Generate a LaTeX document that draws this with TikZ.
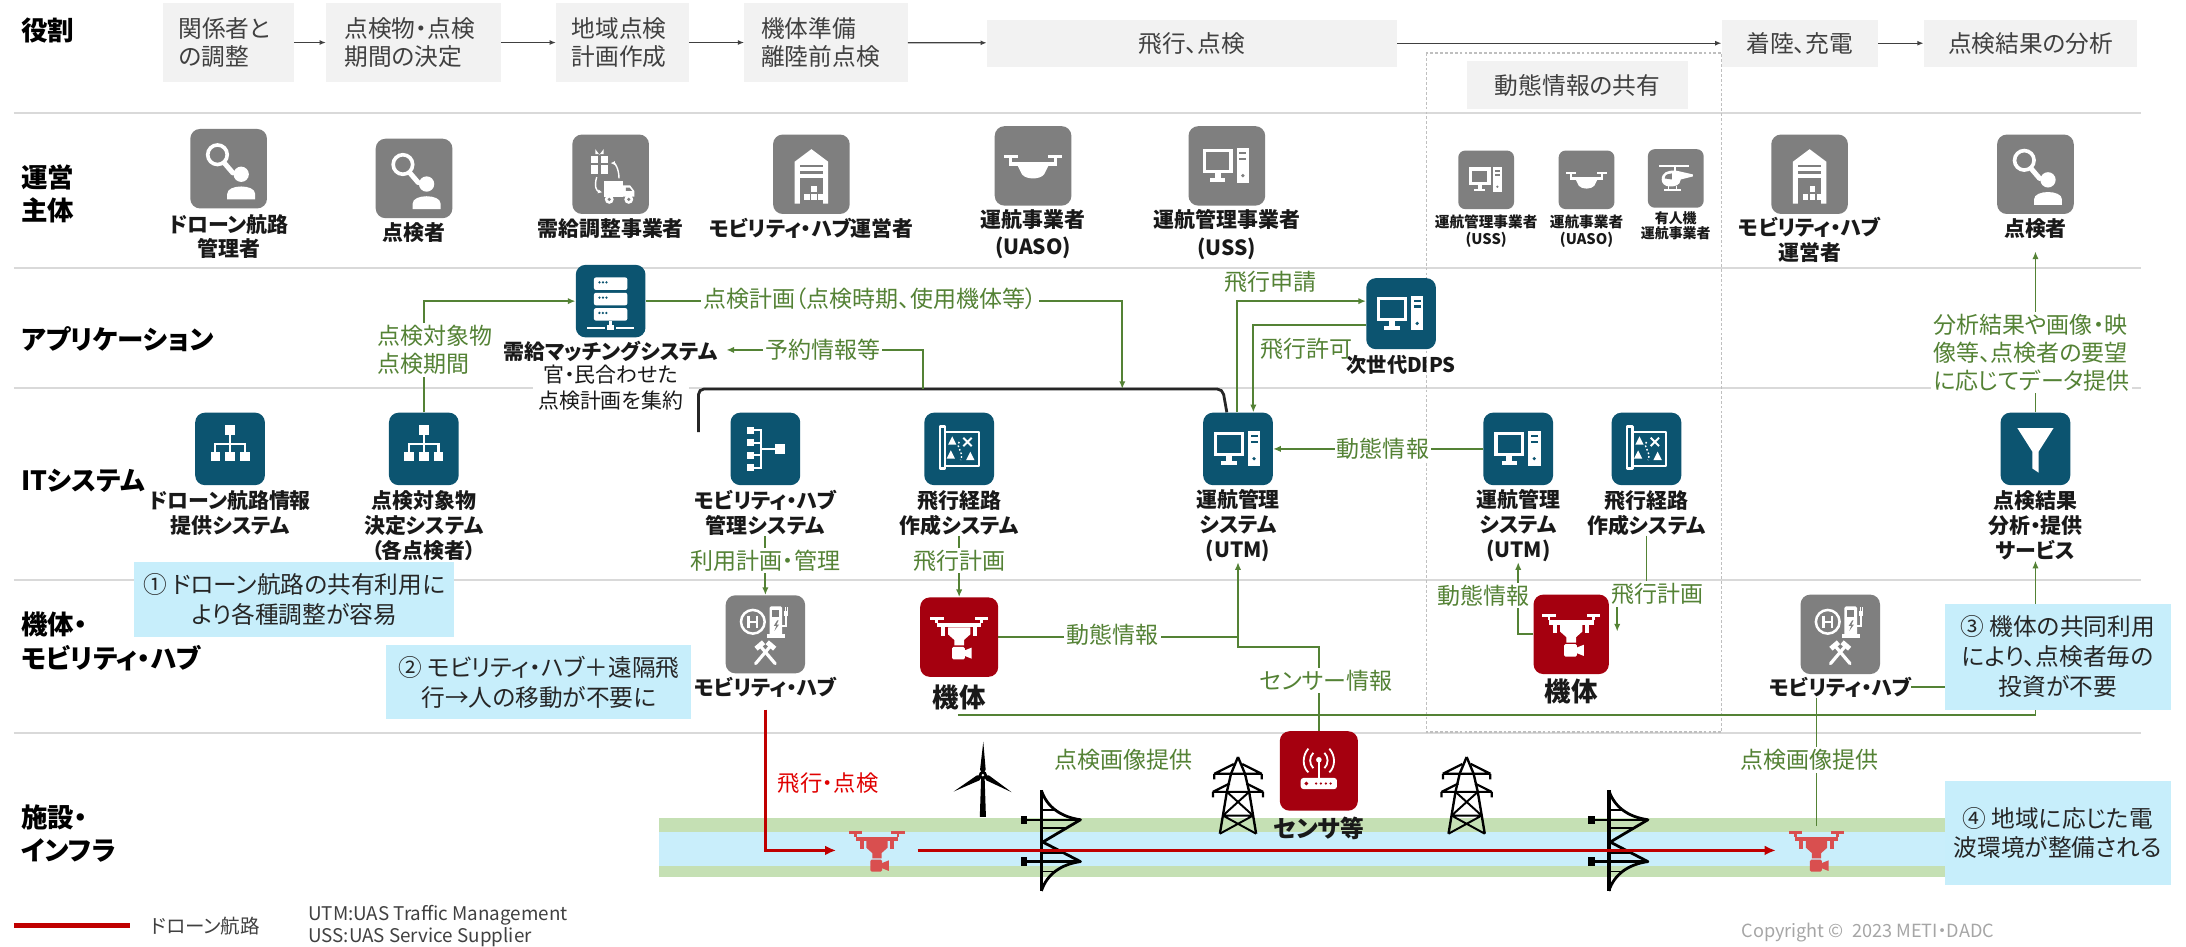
\documentclass[tikz,border=0pt]{standalone}
\usepackage{fontspec}
\setmainfont{Noto Sans CJK JP}[RawFeature={+palt}]
\usetikzlibrary{arrows.meta}
\pgfdeclarelayer{back}
\pgfdeclarelayer{wires}
\pgfsetlayers{back,wires,main}

\definecolor{rowline}{HTML}{D9D9D9}
\definecolor{boxgray}{HTML}{F2F2F2}
\definecolor{txtgray}{HTML}{404040}
\definecolor{icongray}{HTML}{7F7F7F}
\definecolor{icondark}{HTML}{0C5470}
\definecolor{iconred}{HTML}{A5000F}
\definecolor{droneRed}{HTML}{D94F4F}
\definecolor{grn}{HTML}{548235}
\definecolor{callout}{HTML}{C7EEFB}
\definecolor{bandgreen}{HTML}{C5E0B4}
\definecolor{bandblue}{HTML}{C9EEFB}
\definecolor{routered}{HTML}{C00000}
\definecolor{labred}{HTML}{E00000}
\definecolor{dashgray}{HTML}{BFBFBF}
\definecolor{copygray}{HTML}{A6A6A6}

\newcommand{\fz}[2]{\fontsize{#1}{#2}\selectfont}

\tikzset{
  rowlab/.style={anchor=west, align=left, inner sep=0, font=\fz{19}{24}\bfseries, text=black},
  rolebox/.style={fill=boxgray, inner ysep=0, text=txtgray, font=\fz{17}{20}},
  rolearrow/.style={draw=txtgray, line width=0.9pt, -{Latex[length=4.5pt,width=3.5pt]}},
  icon/.style={rounded corners=7pt, inner sep=0},
  gbig/.style={icon, fill=icongray, minimum width=55, minimum height=57},
  gsmall/.style={icon, rounded corners=5pt, fill=icongray, minimum width=40, minimum height=42},
  tbox/.style={icon, fill=icondark, minimum width=50, minimum height=52},
  rbox/.style={icon, fill=iconred, minimum width=56, minimum height=57},
  hubbox/.style={icon, fill=icongray, minimum width=57, minimum height=57},
  ilab/.style={align=center, inner sep=0, font=\fz{15}{18}\bfseries, text=black!90},
  glab/.style={text=grn, font=\fz{16.5}{20}, fill=white, inner sep=1.5pt},
  gline/.style={draw=grn, line width=1.3pt},
  garrow/.style={gline, -{Latex[length=5.5pt,width=4.5pt]}},
  note/.style={fill=callout, align=center, inner sep=0, font=\fz{17}{22}, text=black!85},
  route/.style={draw=routered, line width=2.4pt},
  % ---- icon glyphs (drawn around the icon centre, y grows downwards) ----
  pics/inspector/.style={code={
    \draw[white, line width=2.6pt] (-8,-10) circle[radius=7];
    \draw[white, line width=3.6pt, line cap=round] (-3,-4) -- (3,3);
    \fill[white] (9,4) circle[radius=5.5];
    \fill[white] (-1,22) -- (-1,18) .. controls (-1,11) and (19,11) .. (19,18) -- (19,22) -- cycle;
  }},
  pics/supply/.style={code={
    \fill[white] (-14,-13) rectangle (-2,0);
    \fill[#1] (-9,-13) rectangle (-7,0);
    \fill[#1] (-14,-8) rectangle (-2,-6.5);
    \fill[white] (-11,-18) -- (-8,-14) -- (-5,-18) -- (-5,-14.5) -- (-11,-14.5) -- cycle;
    \fill[white] (-5,5) rectangle (9,16);
    \fill[white] (9,8) -- (14,8) -- (17,12) -- (17,16) -- (9,16) -- cycle;
    \fill[#1] (11,9.5) -- (13.5,9.5) -- (15.5,12) -- (11,12) -- cycle;
    \fill[white] (-1,18) circle[radius=3.2]; \fill[#1] (-1,18) circle[radius=1.3];
    \fill[white] (13,18) circle[radius=3.2]; \fill[#1] (13,18) circle[radius=1.3];
    \draw[white, line width=1pt, -{Latex[length=3pt,width=3pt]}] (-10,2) .. controls (-12,9) and (-10,12) .. (-6,13);
    \draw[white, line width=1pt, -{Latex[length=3pt,width=3pt]}] (6,3) .. controls (6,-4) and (3,-8) .. (0,-8);
  }},
  pics/warehouse/.style={code={
    \fill[white] (-12,21) -- (-12,-9) -- (0,-18) -- (12,-9) -- (12,21) -- cycle;
    \fill[#1] (-8,-7) rectangle (8,-5);
    \fill[#1] (-8,-2) rectangle (8,0);
    \fill[#1] (-8,3) rectangle (8,21);
    \fill[white] (0,8.5) rectangle (4,13);
    \fill[white] (-5,14) rectangle (-1,18.5);
    \fill[white] (0,14) rectangle (4,18.5);
    \fill[white] (5,14) rectangle (8,18.5);
  }},
  pics/drone/.style={code={
    \fill[white] (-17,-3) rectangle (17,0);
    \fill[white] (-21,-8) rectangle (-11,-6);
    \fill[white] (11,-8) rectangle (21,-6);
    \fill[white] (-17,-6) rectangle (-15,-3);
    \fill[white] (15,-6) rectangle (17,-3);
    \fill[white] (-11,0) -- (11,0) -- (8,6) .. controls (5,10) and (-5,10) .. (-8,6) -- cycle;
  }},
  pics/computer/.style={code={
    \draw[white, line width=2.4pt] (-16,-11) rectangle (3,4);
    \fill[white] (-8.5,5) rectangle (-4.5,9);
    \fill[white] (-12,9) rectangle (-1,11.5);
    \fill[white] (7,-13) rectangle (16,12);
    \fill[#1] (9,-10) rectangle (14,-8.2);
    \fill[#1] (9,-6) rectangle (14,-4.2);
    \fill[#1] (11.5,7) circle[radius=1.3];
  }},
  pics/heli/.style={code={
    \fill[white] (-17,-13) rectangle (13,-11);
    \fill[white] (-2,-11) rectangle (0,-7);
    \fill[white] (-14,1) .. controls (-14,-6) and (-8,-8) .. (-1,-8) -- (4,-7) -- (17,-4) -- (17,-2) -- (5,1) .. controls (4,7) and (0,8) .. (-6,8) .. controls (-11,8) and (-14,5) .. (-14,1) -- cycle;
    \fill[#1] (-11,0) .. controls (-11,-4) and (-7,-5) .. (-4,-5) -- (-4,1) -- cycle;
    \fill[white] (-12,11) rectangle (5,12.5);
    \fill[white] (-8,8) rectangle (-7,11);
    \fill[white] (0,8) rectangle (1,11);
  }},
  pics/server/.style={code={
    \foreach \yy in {-17,-6,5}{
      \fill[white, rounded corners=1.5pt] (-12,\yy) rectangle (12,\yy+9);
      \foreach \xx in {-8,-5.5,-3} \fill[#1] (\xx,\yy+3.5) circle[radius=0.9];
    }
    \fill[white] (-1,14) rectangle (1,18);
    \fill[white] (-2.5,17) rectangle (2.5,21);
    \fill[white] (-17,18.3) rectangle (-4,19.7);
    \fill[white] (4,18.3) rectangle (17,19.7);
  }},
  pics/orgchart/.style={code={
    \fill[white] (-3.5,-17) rectangle (3.5,-10);
    \draw[white, line width=1.5pt] (0,-10) -- (0,-4) (-11.25,-3.3) -- (11.25,-3.3)
      (-10.5,-4) -- (-10.5,2) (0,-3) -- (0,2) (10.5,-4) -- (10.5,2);
    \fill[white] (-14,2) rectangle (-7,9);
    \fill[white] (-3.5,2) rectangle (3.5,9);
    \fill[white] (7,2) rectangle (14,9);
  }},
  pics/flow/.style={code={
    \foreach \yy in {-16,-7,2,11} \fill[white] (-13,\yy) rectangle (-8,\yy+5);
    \draw[white, line width=1.5pt] (-8,-13.5) -- (-3,-13.5) -- (-3,13.5) -- (-8,13.5)
      (-8,-4.5) -- (-3,-4.5) (-8,4.5) -- (-3,4.5) (-3,0) -- (7,0);
    \fill[white] (7,-3.5) rectangle (14,3.5);
  }},
  pics/routemap/.style={code={
    \draw[white, line width=1.6pt, line join=round] (-10,-12) -- (14,-12) -- (14,12) -- (-10,12);
    \draw[white, line width=1.6pt, line join=round] (-14,-16) -- (-10,-16) -- (-10,14) -- (-14,14) -- cycle;
    \draw[white, line width=1.4pt] (3,-8) -- (9,-2) (3,-2) -- (9,-8);
    \fill[white] (-5,-9) -- (-2,-3) -- (-8,-3) -- cycle;
    \fill[white] (-6,1) -- (-3,7) -- (-9,7) -- cycle;
    \fill[white] (8,2) -- (11,8) -- (5,8) -- cycle;
    \draw[white, line width=1pt, dash pattern=on 1.2pt off 1.5pt] (0,-5) .. controls (-3,-1) and (4,2) .. (1,8);
  }},
  pics/funnel/.style={code={
    \fill[white] (-13,-15) -- (13,-15) -- (2.2,2) -- (2.2,17) -- (-2.2,14) -- (-2.2,2) -- cycle;
  }},
  pics/hub/.style={code={
    \draw[white, line width=1.8pt] (-9,-9) circle[radius=8.5];
    \draw[white, line width=1.8pt] (-12,-13.5) -- (-12,-4.5) (-6,-13.5) -- (-6,-4.5) (-12,-9) -- (-6,-9);
    \fill[white, rounded corners=1pt] (3,-20) rectangle (12,1);
    \fill[#1] (5,-17.5) rectangle (10,-12.5);
    \fill[#1] (8.5,-10) -- (6,-6) -- (7.8,-6) -- (6.5,-2.5) -- (9.8,-7) -- (8,-7) -- (9.5,-10) -- cycle;
    \fill[white] (1,0) rectangle (14,2.5);
    \draw[white, line width=1.2pt] (12,-6) -- (15,-6) -- (15,-13);
    \fill[white] (13.5,-17) rectangle (16.5,-13);
    \draw[white, line width=0.8pt] (14.2,-17) -- (14.2,-19.5) (15.8,-17) -- (15.8,-19.5);
    \draw[white, line width=2.3pt, line cap=round] (-7,21) -- (4,8);
    \draw[white, line width=2.3pt, line cap=round] (7,21) -- (-4,8);
    \draw[white, line width=3.6pt] (1.3,5.7) -- (6.7,10.3);
    \draw[white, line width=3.6pt] (-1.3,5.7) -- (-6.7,10.3);
  }},
  pics/reddrone/.style={code={
    \fill[#1] (-16,-10) rectangle (16,-7);
    \fill[#1] (-21,-14.5) rectangle (-11,-12.5);
    \fill[#1] (11,-14.5) rectangle (21,-12.5);
    \fill[#1] (-17,-12.5) rectangle (-15,-10);
    \fill[#1] (15,-12.5) rectangle (17,-10);
    \fill[#1] (-13,-7) rectangle (-10,-1);
    \fill[#1] (10,-7) rectangle (13,-1);
    \fill[#1] (-8,-7) -- (8,-7) -- (8,-2) -- (3.5,2) -- (3.5,6) -- (-3.5,6) -- (-3.5,2) -- (-8,-2) -- cycle;
    \fill[#1, rounded corners=1pt] (-5,7) rectangle (4,16);
    \fill[#1] (4,9.5) -- (9,7.5) -- (9,15.5) -- (4,13.5) -- cycle;
  }},
  pics/sensor/.style={code={
    \fill[white, rounded corners=2pt] (-13,5) rectangle (13,13);
    \fill[#1] (-9,9) circle[radius=1.4];
    \foreach \xx in {-2,1.5,5,8.5} \fill[#1] (\xx,9) circle[radius=0.9];
    \fill[white] (-0.9,-7) rectangle (0.9,5);
    \fill[white] (0,-8) circle[radius=2];
    \draw[white, line width=1.3pt] (-4,-13) .. controls (-7,-10) and (-7,-5) .. (-4,-2);
    \draw[white, line width=1.3pt] (4,-13) .. controls (7,-10) and (7,-5) .. (4,-2);
    \draw[white, line width=1.3pt] (-7.5,-16) .. controls (-12,-11) and (-12,-3) .. (-7.5,1);
    \draw[white, line width=1.3pt] (7.5,-16) .. controls (12,-11) and (12,-3) .. (7.5,1);
  }},
  pics/turbine/.style={code={
    \fill[black] (-1.2,0) -- (1.2,0) -- (2.2,30) -- (-2.2,30) -- cycle;
    \foreach \a in {0,120,240} \fill[black, rotate=\a] (0,0) -- (-2,-4) -- (0.3,-24) -- (2,-4) -- cycle;
    \fill[black] (0,0) circle[radius=3];
    \fill[white] (0,0) circle[radius=1];
  }},
  pics/sidepylon/.style={code={
    \draw[black, line width=2.6pt] (0,0) -- (0,72);
    \draw[black, line width=2pt, line join=round] (0,0) .. controls (4,12) and (14,19) .. (28,21) -- (1,37) -- (28,51) .. controls (14,53) and (4,60) .. (0,72);
    \draw[black, line width=1.8pt] (-13,21) -- (28,21) (-13,51) -- (28,51);
    \fill[black] (-15,18) rectangle (-10,24);
    \fill[black] (-15,48) rectangle (-10,54);
    \draw[black, line width=1.1pt] (0,14) -- (11,14) (0,27) -- (17,27) (0,45) -- (16,45) (0,58) -- (11,58);
  }},
  pics/lattice/.style={code={
    \draw[black, line width=1.7pt, line join=round] (0,0) -- (-5,12) -- (-8,25) -- (-13,55);
    \draw[black, line width=1.7pt, line join=round] (0,0) -- (5,12) -- (8,25) -- (13,55);
    \draw[black, line width=1.6pt] (-17,12) -- (17,12) (-17,12) -- (-3,5) (17,12) -- (3,5)
      (-18,25) -- (18,25) (-18,25) -- (-6,19) (18,25) -- (6,19)
      (-17,12) -- (-17,16) (17,12) -- (17,16) (-18,25) -- (-18,29) (18,25) -- (18,29);
    \draw[black, line width=1.4pt] (-8,25) -- (10.8,42) (8,25) -- (-10.8,42) (-10.8,42) -- (10.8,42)
      (-10.8,42) -- (13,55) (10.8,42) -- (-13,55);
  }},
}

\begin{document}
\begin{tikzpicture}[x=1pt, y=-1pt]
\useasboundingbox (0,0) rectangle (1568,679);

% ---------- background: rows, dashed group, infrastructure bands ----------
\begin{pgfonlayer}{back}
  \fill[white] (0,0) rectangle (1568,679);
  \foreach \yy in {81,192,278,416,526} \draw[rowline, line width=1.5pt] (10,\yy) -- (1536,\yy);
  \draw[dashgray, line width=0.9pt, dash pattern=on 2pt off 1.5pt] (1023,38) rectangle (1235,525);
  \fill[bandgreen] (473,587) rectangle (1395,629);
  \fill[bandblue] (473,597) rectangle (1395,621);
\end{pgfonlayer}

% ---------- row headings ----------
\node[rowlab] (r1) at (15,22) {役割};
\node[rowlab] (r2) at (15,139) {運営\\主体};
\node[rowlab] (r3) at (15,243) {アプリケーション};
\node[rowlab] (r4) at (15,345) {ITシステム};
\node[rowlab] (r5) at (15,460) {機体・\\モビリティ・ハブ};
\node[rowlab] (r6) at (15,598) {施設・\\インフラ};

% ---------- role sequence ----------
\node[rolebox, minimum height=57, text width=72, inner xsep=11, align=left] (b1) at (164,30.5) {関係者と\\の調整};
\node[rolebox, minimum height=57, text width=99, inner xsep=13, align=left] (b2) at (296.5,30.5) {点検物・点検\\期間の決定};
\node[rolebox, minimum height=57, text width=73, inner xsep=11, align=left] (b3) at (446.5,30.5) {地域点検\\計画作成};
\node[rolebox, minimum height=57, text width=93, inner xsep=12, align=left] (b4) at (592.5,30.5) {機体準備\\離陸前点検};
\node[rolebox, minimum width=294, minimum height=34, inner xsep=0] (b5) at (855,31) {飛行、点検};
\node[rolebox, minimum width=112, minimum height=34, inner xsep=0] (b6) at (1291,31) {着陸、充電};
\node[rolebox, minimum width=153, minimum height=34, inner xsep=0] (b7) at (1456.5,31) {点検結果の分析};
\draw[rolearrow] (b1) -- (b2);
\draw[rolearrow] (b2) -- (b3);
\draw[rolearrow] (b3) -- (b4);
\draw[rolearrow] (b4) -- (b5);
\draw[rolearrow] (b5) -- (b6);
\draw[rolearrow] (b6) -- (b7);
\node[rolebox, minimum width=159, minimum height=34, inner xsep=0] (share) at (1131.5,61) {動態情報の共有};

% ---------- operators ----------
\node[gbig] (o1) at (164,121) {}; \pic at (o1) {inspector};
\node[ilab, font=\fz{15}{17}\bfseries] (o1l) at (164,169.5) {ドローン航路\\管理者};
\node[gbig] (o2) at (297,128) {}; \pic at (o2) {inspector};
\node[ilab] (o2l) at (297,167) {点検者};
\node[gbig] (o3) at (438,125) {}; \pic at (o3) {supply=icongray};
\node[ilab] (o3l) at (438,164) {需給調整事業者};
\node[gbig] (o4) at (582,125) {}; \pic at (o4) {warehouse=icongray};
\node[ilab] (o4l) at (582,164) {モビリティ・ハブ運営者};
\node[gbig] (o5) at (741,119) {}; \pic at (o5) {drone};
\node[ilab, font=\fz{15}{20}\bfseries] (o5l) at (741,168) {運航事業者\\(UASO)};
\node[gbig] (o6) at (880,119) {}; \pic at (o6) {computer=icongray};
\node[ilab, font=\fz{15}{20}\bfseries] (o6l) at (880,168) {運航管理事業者\\(USS)};
\node[gsmall] (s1) at (1066,129) {}; \pic[scale=0.7] at (s1) {computer=icongray};
\node[ilab, font=\fz{10.5}{12}\bfseries] (s1l) at (1066,166) {運航管理事業者\\(USS)};
\node[gsmall] (s2) at (1138,129) {}; \pic[scale=0.7] at (s2) {drone};
\node[ilab, font=\fz{10.5}{12}\bfseries] (s2l) at (1138,166) {運航事業者\\(UASO)};
\node[gsmall] (s3) at (1202,128) {}; \pic[scale=0.72] at (s3) {heli=icongray};
\node[ilab, font=\fz{10}{11}\bfseries] (s3l) at (1202,162) {有人機\\運航事業者};
\node[gbig] (o7) at (1298,125) {}; \pic at (o7) {warehouse=icongray};
\node[ilab] (o7l) at (1298,172) {モビリティ・ハブ\\運営者};
\node[gbig] (o8) at (1460,125) {}; \pic at (o8) {inspector};
\node[ilab] (o8l) at (1460,164) {点検者};

% ---------- applications ----------
\node[tbox] (a1) at (438,216) {}; \pic at (a1) {server=icondark};
\node[ilab, fill=white, inner xsep=3pt] (a1l) at (438,252) {需給マッチングシステム};
\node[ilab, font=\fz{15}{18}, fill=white, inner xsep=4pt, inner ysep=1pt] (a1s) at (438,278) {官・民合わせた\\点検計画を集約};
\node[tbox, minimum height=51] (a2) at (1005,225) {}; \pic at (a2) {computer=icondark};
\node[ilab, font=\fz{14.5}{17}\bfseries] (a2l) at (1005,262) {次世代DIPS};

% ---------- IT systems ----------
\node[tbox] (i1) at (165,322) {}; \pic at (i1) {orgchart};
\node[ilab] (i1l) at (165,368) {ドローン航路情報\\提供システム};
\node[tbox] (i2) at (304,322) {}; \pic at (i2) {orgchart};
\node[ilab] (i2l) at (304,377) {点検対象物\\決定システム\\（各点検者）};
\node[tbox] (i3) at (549,322) {}; \pic at (i3) {flow};
\node[ilab] (i3l) at (549,368) {モビリティ・ハブ\\管理システム};
\node[tbox] (i4) at (688,322) {}; \pic at (i4) {routemap};
\node[ilab] (i4l) at (688,368) {飛行経路\\作成システム};
\node[tbox] (i5) at (888,322) {}; \pic at (i5) {computer=icondark};
\node[ilab] (i5l) at (888,377) {運航管理\\システム\\(UTM)};
\node[tbox] (i6) at (1089,322) {}; \pic at (i6) {computer=icondark};
\node[ilab] (i6l) at (1089,377) {運航管理\\システム\\(UTM)};
\node[tbox] (i7) at (1181,322) {}; \pic at (i7) {routemap};
\node[ilab] (i7l) at (1181,368) {飛行経路\\作成システム};
\node[tbox] (i8) at (1460,322) {}; \pic at (i8) {funnel};
\node[ilab] (i8l) at (1460,377) {点検結果\\分析・提供\\サービス};

% ---------- vehicles and hubs ----------
\node[hubbox, minimum height=56] (m1) at (549,455) {}; \pic at (m1) {hub=icongray};
\node[ilab] (m1l) at (549,493) {モビリティ・ハブ};
\node[rbox] (m2) at (688,457) {}; \pic at (m2) {reddrone=white};
\node[ilab, font=\fz{19}{22}\bfseries] (m2l) at (688,500) {機体};
\node[rbox, minimum width=54] (m3) at (1127,455) {}; \pic at (m3) {reddrone=white};
\node[ilab, font=\fz{19}{22}\bfseries] (m3l) at (1127,496) {機体};
\node[hubbox] (m4) at (1320,455) {}; \pic at (m4) {hub=icongray};
\node[ilab] (m4l) at (1320,493) {モビリティ・ハブ};

% ---------- infrastructure ----------
\pic at (705,556) {turbine};
\pic at (747,567) {sidepylon};
\pic at (1154,567) {sidepylon};
\pic at (888,543) {lattice};
\pic at (1052,543) {lattice};
\node[rbox] (sen) at (946,553) {}; \pic at (sen) {sensor=iconred};
\node[ilab, font=\fz{17}{20}\bfseries] (senl) at (946,594) {センサ等};
\node[inner sep=0, minimum width=58, minimum height=34] (d1) at (629,610) {};
\pic[scale=0.95] at (d1) {reddrone=droneRed};
\node[inner sep=0, minimum width=58, minimum height=34] (d2) at (1303,610) {};
\pic[scale=0.95] at (d2) {reddrone=droneRed};

% ---------- drone route ----------
\coordinate (rt0) at (549,509);
\draw[route, -{Latex[length=8pt,width=7pt]}] (rt0) |- (d1.west);
\draw[route, -{Latex[length=8pt,width=7pt]}] (d1.east) -- (d2.west);
\node[text=labred, font=\fz{16}{19}, inner sep=0] (t16) at (594,562) {飛行・点検};

% ---------- callouts ----------
\node[note, minimum width=230, minimum height=54] (c1) at (211,430) {① ドローン航路の共有利用に\\より各種調整が容易};
\node[note, minimum width=219, minimum height=53] (c2) at (386.5,489.5) {② モビリティ・ハブ＋遠隔飛\\行→人の移動が不要に};
\node[note, minimum width=162, minimum height=76, font=\fz{17}{21.5}] (c3) at (1476,471) {③ 機体の共同利用\\により、点検者毎の\\投資が不要};
\node[note, minimum width=162, minimum height=75, font=\fz{17}{21}] (c4) at (1476,597.5) {④ 地域に応じた電\\波環境が整備される};

% ---------- information flow labels ----------
\node[glab, align=left, anchor=west] (t1) at (269,251) {点検対象物\\点検期間};
\node[glab] (t2) at (624,214) {点検計画（点検時期、使用機体等）};
\node[glab] (t3) at (590,251) {予約情報等};
\node[glab, fill=none] (t4) at (911,202) {飛行申請};
\node[glab, fill=none] (t5) at (937,250) {飛行許可};
\node[glab] (t6) at (992,322) {動態情報};
\node[glab] (t7) at (549,402) {利用計画・管理};
\node[glab] (t8) at (688,402) {飛行計画};
\node[glab] (t9) at (798,455) {動態情報};
\node[glab] (t10) at (951,488) {センサー情報};
\node[glab] (t11) at (806,545) {点検画像提供};
\node[glab] (t12) at (1298,545) {点検画像提供};
\node[glab, align=left, anchor=west] (t13) at (1385,253) {分析結果や画像・映\\像等、点検者の要望\\に応じてデータ提供};
\node[glab] (t14) at (1064,427) {動態情報};
\node[glab] (t15) at (1189,426) {飛行計画};

% ---------- legend ----------
\coordinate (lg0) at (10,664);
\coordinate (lg1) at (93,664);
\draw[route, line width=3.5pt] (lg0) -- (lg1);
\node[anchor=west, inner sep=0, font=\fz{14}{16}, text=txtgray] (lgt) at (108,664) {ドローン航路};
\node[anchor=west, inner sep=0, align=left, font=\fz{13.5}{16}, text=txtgray] (abbr) at (221,664) {UTM:UAS Traffic Management\\USS:UAS Service Supplier};
\node[anchor=west, inner sep=0, font=\fz{13}{15}, text=copygray] (copy) at (1249,669) {Copyright ©\ \ 2023 METI・DADC};

% ---------- connectors ----------
\coordinate (pj) at (805,279);
\coordinate (yj) at (662,279);
\coordinate (yt) at (521,251);
\coordinate (sj) at (888,464);
\coordinate (lj) at (687,513);
\coordinate (fa) at (1160,453);
\coordinate (bl) at (501,310);
\coordinate (br) at (877,279);
\begin{pgfonlayer}{wires}
  \draw[black!85, line width=2pt, rounded corners=4pt] (bl) |- (br) -- ([xshift=-8pt]i5.north);
  \draw[garrow] (i2.north) |- (a1.west);
  \draw[garrow] (a1.east) -| (pj);
  \draw[garrow] (yj) |- (yt);
  \draw[garrow] ([xshift=-1pt]i5.north) |- ([yshift=9pt]a2.west);
  \draw[garrow] ([yshift=-8pt]a2.west) -| ([xshift=11pt]i5.north);
  \draw[garrow] (i6.west) -- (i5.east);
  \draw[garrow] (i3l.south) -- (m1.north);
  \draw[garrow] (i4l.south) -- (m2.north);
  \draw[gline] (m2.east) -- (m2.east -| sj);
  \draw[garrow] (sen.north) |- (sj) -- (i5l.south);
  \draw[garrow] (lj) -| (i8l.south);
  \draw[gline] (m4l.east) -- (m4l.east -| c3.west);
  \draw[gline] (d2.north |- m4l.south) -- (d2.north);
  \draw[garrow] (i8.north) -- ([yshift=-9pt]o8l.south);
  \draw[garrow] (m3.west) -| (i6l.south);
  \draw[gline] (i7l.south) -- (i7l.south |- t15.north);
  \draw[garrow] (fa |- t15.south) -- (fa);
\end{pgfonlayer}
\end{tikzpicture}
\end{document}
